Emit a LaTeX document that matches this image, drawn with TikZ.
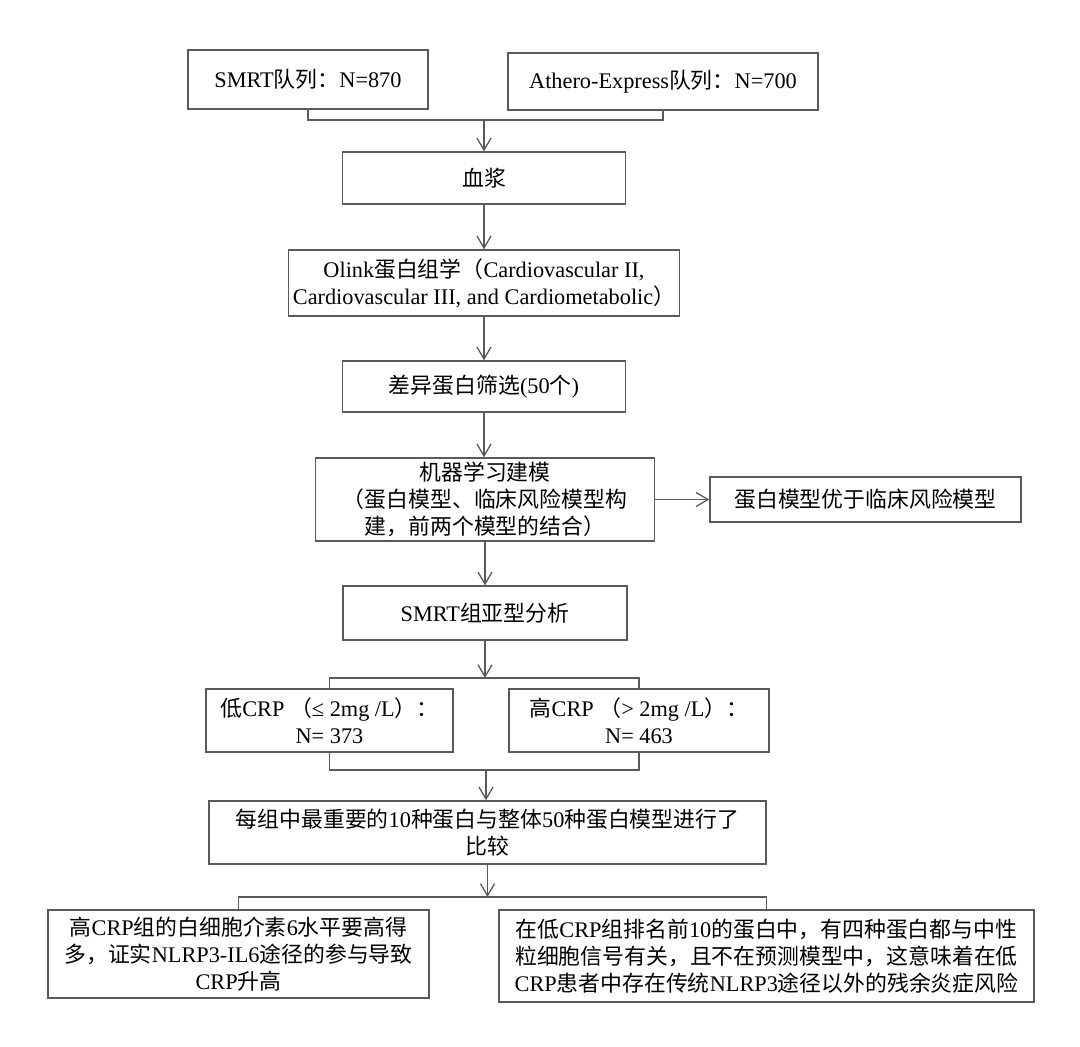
\documentclass[tikz,border=0pt]{standalone}
\usepackage{fontspec}
\setmainfont{Liberation Serif}
\newfontfamily\cjk{Noto Sans CJK SC}[Scale=0.98]
\usetikzlibrary{arrows.meta}
\newcommand{\zh}[1]{{\cjk #1}}
\definecolor{linegray}{HTML}{5A5A5A}
\begin{document}
\begin{tikzpicture}[x=1pt,y=-1pt,
  box/.style={draw=linegray, line width=1.3pt, align=center, inner sep=0pt, text=black,
              font=\fontsize{22.3}{27}\selectfont},
  arr/.style={draw=linegray, line width=1.3pt, -{Straight Barb[length=12pt,width=14pt]}},
  ln/.style={draw=linegray, line width=1.3pt}]
\fill[white] (0,0) rectangle (1080,1047);
\useasboundingbox (0,0) rectangle (1080,1047);

\node[box, minimum width=240pt, minimum height=59pt] (smrt) at (308,79.5) {SMRT\zh{队列：}N=870};
\node[box, minimum width=310pt, minimum height=57pt] (athero) at (663,81.5) {Athero-Express\zh{队列：}N=700};
\node[box, minimum width=283pt, minimum height=52pt] (blood) at (484,178) {\zh{血浆}};
\node[box, minimum width=391pt, minimum height=66pt] (olink) at (484,283) {Olink\zh{蛋白组学（}Cardiovascular II,\\Cardiovascular III, and Cardiometabolic\zh{）}};
\node[box, minimum width=283pt, minimum height=51pt] (diff) at (484,386.5) {\zh{差异蛋白筛选}(50\zh{个})};
\node[box, minimum width=339pt, minimum height=83pt] (ml) at (485,499.5) {\zh{机器学习建模}\\\zh{（蛋白模型、临床风险模型构}\\\zh{建，前两个模型的结合）}};
\node[box, minimum width=311pt, minimum height=45pt] (better) at (865.5,499.5) {\zh{蛋白模型优于临床风险模型}};
\node[box, minimum width=284pt, minimum height=54pt] (sub) at (485,613) {SMRT\zh{组亚型分析}};
\node[box, minimum width=247pt, minimum height=63pt] (low) at (329.5,720.5) {\zh{低}CRP \zh{（}≤ 2mg /L\zh{）：}\\N= 373};
\node[box, minimum width=260pt, minimum height=63pt] (high) at (639,720.5) {\zh{高}CRP \zh{（}> 2mg /L\zh{）：}\\N= 463};
\node[box, minimum width=557pt, minimum height=63pt] (cmp) at (487.5,832.5) {\zh{每组中最重要的}10\zh{种蛋白与整体}50\zh{种蛋白模型进行了}\\\zh{比较}};
\node[box, minimum width=381pt, minimum height=88pt] (bl) at (238.5,954) {\zh{高}CRP\zh{组的白细胞介素}6\zh{水平要高得}\\\zh{多，证实}NLRP3-IL6\zh{途径的参与导致}\\CRP\zh{升高}};
\node[box, minimum width=535pt, minimum height=92pt] (br) at (766.5,956) {\zh{在低}CRP\zh{组排名前}10\zh{的蛋白中，有四种蛋白都与中性}\\\zh{粒细胞信号有关，且不在预测模型中，这意味着在低}\\CRP\zh{患者中存在传统}NLRP3\zh{途径以外的残余炎症风险}};

% junctions
\coordinate (j1) at (484,120);
\coordinate (j2) at (485,678);
\coordinate (j3) at (486,770);
\coordinate (j4) at (487.5,897);

% connectors
\draw[ln] (smrt.south) -- (smrt.south |- j1) -- (athero.south |- j1) -- (athero.south);
\draw[arr] (j1) -- (j1 |- blood.north);
\draw[arr] (blood.south) -- (blood.south |- olink.north);
\draw[arr] (olink.south) -- (olink.south |- diff.north);
\draw[arr] (diff.south) -- (diff.south |- ml.north);
\draw[arr] (ml.east) -- (better.west);
\draw[arr] (ml.south) -- (ml.south |- sub.north);
\draw[arr] (sub.south) -- (sub.south |- j2);
\draw[ln] (low.north) -- (low.north |- j2) -- (high.north |- j2) -- (high.north);
\draw[ln] (low.south) -- (low.south |- j3) -- (high.south |- j3) -- (high.south);
\draw[arr] (j3) -- (j3 |- cmp.north);
\draw[arr] (cmp.south) -- (cmp.south |- j4);
\draw[ln] (bl.north) -- (bl.north |- j4) -- (br.north |- j4) -- (br.north);
\end{tikzpicture}
\end{document}
